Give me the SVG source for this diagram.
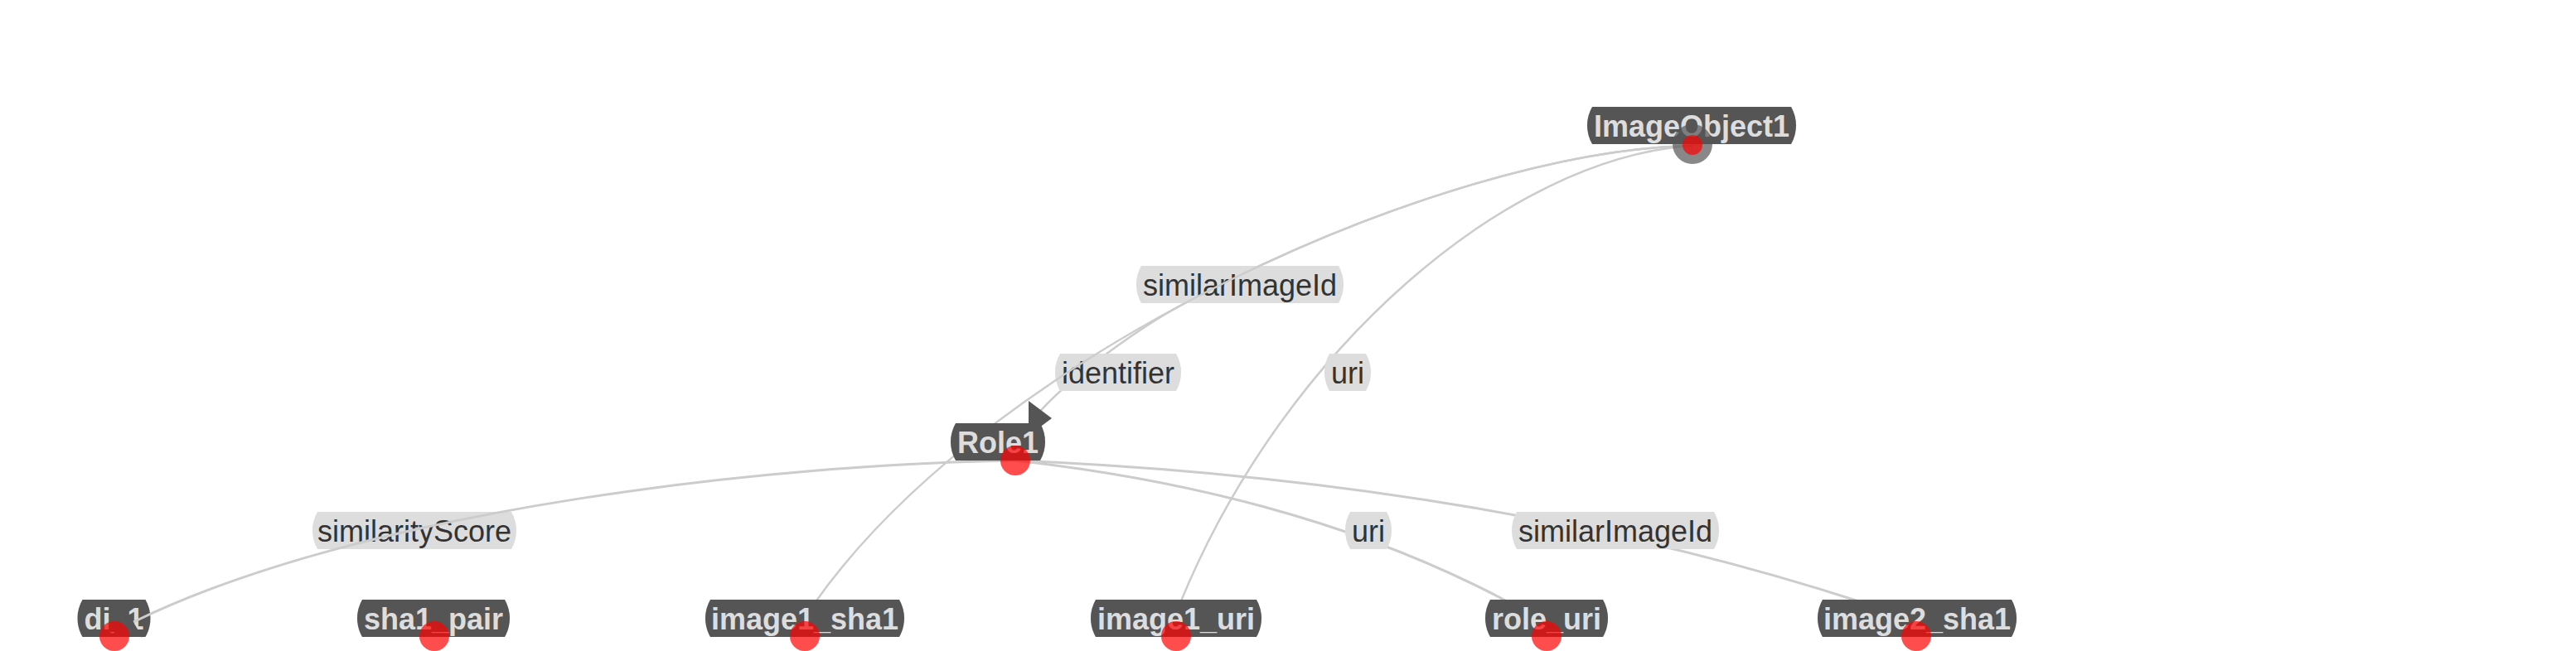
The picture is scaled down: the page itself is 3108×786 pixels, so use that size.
<svg xmlns="http://www.w3.org/2000/svg" width="3108" height="786" viewBox="0 0 3108 786">
<style>
.edge{fill:none;stroke:#ccc;stroke-width:2.5}
.edge.thick{stroke-width:3}
.node path{fill:#555}
.node text{font-family:"Liberation Sans",Arial,Helvetica,sans-serif;font-weight:bold;font-size:36px;fill:#ddd;text-anchor:middle}
.label path{fill:#ddd}
.label text{font-family:"Liberation Sans",Arial,Helvetica,sans-serif;font-size:36px;fill:#333;text-anchor:middle}
.arrow{fill:#555}
.pin{fill:#f00;fill-opacity:0.7}
.halo{fill:#555;fill-opacity:0.7}
</style>
<defs>
<path id="arrowhead" d="M0,-21 L28,0 L0,21 Z"/>
</defs>
<rect width="3108" height="786" fill="#fff"/>

<g id="node-di_1" class="node">
<path d="M99.5,724 H175.5 A45,45 0 0 1 175.5,769 H99.5 A45,45 0 0 1 99.5,724 Z"/>
<text x="137.5" y="759.5">di_1</text>
</g>

<g id="connectors">
<path id="e-uri-top" class="edge" d="M2042,176 C1820,190 1550,420 1424,728"/>
<path id="e-similarImageId-top" class="edge" d="M2042,176 C1881.4,178.2 1642.75,251.8 1424.4,368.8 C1380.4,392.5 1290,455 1252,500"/>
<path id="e-uri-bottom" class="edge thick" d="M1225,556 Q1574,595 1822,728"/>
<path id="e-similarImageId-bottom" class="edge thick" d="M1225,556 Q1795,580 2249,728"/>

<g class="label" id="lbl-similarImageId-top">
<path d="M1377,321 H1615 A45,45 0 0 1 1615,366 H1377 A45,45 0 0 1 1377,321 Z"/>
<text x="1496" y="356.5">similarImageId</text>
</g>
<g class="label" id="lbl-identifier">
<path d="M1279,427 H1419 A45,45 0 0 1 1419,472 H1279 A45,45 0 0 1 1279,427 Z"/>
<text x="1349" y="462.5">identifier</text>
</g>
<g class="label" id="lbl-uri-top">
<path d="M1604,427 H1648 A45,45 0 0 1 1648,472 H1604 A45,45 0 0 1 1604,427 Z"/>
<text x="1626" y="462.5">uri</text>
</g>
<g class="label" id="lbl-similarityScore">
<path d="M383,618 H617 A45,45 0 0 1 617,663 H383 A45,45 0 0 1 383,618 Z"/>
<text x="500" y="653.5">similarityScore</text>
</g>
<g class="label" id="lbl-uri-bottom">
<path d="M1629,618 H1673 A45,45 0 0 1 1673,663 H1629 A45,45 0 0 1 1629,618 Z"/>
<text x="1651" y="653.5">uri</text>
</g>
<g class="label" id="lbl-similarImageId-bottom">
<path d="M1830,618 H2068 A45,45 0 0 1 2068,663 H1830 A45,45 0 0 1 1830,618 Z"/>
<text x="1949" y="653.5">similarImageId</text>
</g>

<path id="e-identifier" class="edge" d="M2042,176 C1750,180 1200,420 983,728"/>
<path id="e-similarityScore" class="edge thick" d="M1225,556 C950,560 450,610 161,751"/>

<use href="#arrowhead" class="arrow" transform="translate(1241,505)"/>
<use href="#arrowhead" class="arrow" transform="translate(161,751.4) rotate(148.7)"/>
</g>

<g id="node-ImageObject1" class="node">
<path d="M1921,129 H2161 A45,45 0 0 1 2161,174 H1921 A45,45 0 0 1 1921,129 Z"/>
<text x="2041" y="164.5">ImageObject1</text>
</g>
<g id="node-Role1" class="node">
<path d="M1153,511 H1255 A45,45 0 0 1 1255,556 H1153 A45,45 0 0 1 1153,511 Z"/>
<text x="1204" y="546.5">Role1</text>
</g>
<g id="node-sha1_pair" class="node">
<path d="M437,724 H609 A45,45 0 0 1 609,769 H437 A45,45 0 0 1 437,724 Z"/>
<text x="523" y="759.5">sha1_pair</text>
</g>
<g id="node-image1_sha1" class="node">
<path d="M857,724 H1085 A45,45 0 0 1 1085,769 H857 A45,45 0 0 1 857,724 Z"/>
<text x="971" y="759.5">image1_sha1</text>
</g>
<g id="node-image1_uri" class="node">
<path d="M1322,724 H1516 A45,45 0 0 1 1516,769 H1322 A45,45 0 0 1 1322,724 Z"/>
<text x="1419" y="759.5">image1_uri</text>
</g>
<g id="node-role_uri" class="node">
<path d="M1798,724 H1934 A45,45 0 0 1 1934,769 H1798 A45,45 0 0 1 1798,724 Z"/>
<text x="1866" y="759.5">role_uri</text>
</g>
<g id="node-image2_sha1" class="node">
<path d="M2199,724 H2427 A45,45 0 0 1 2427,769 H2199 A45,45 0 0 1 2199,724 Z"/>
<text x="2313" y="759.5">image2_sha1</text>
</g>

<g id="pins">
<circle class="halo" cx="2042" cy="174" r="24"/>
<circle class="pin" cx="2042" cy="175" r="12"/>
<circle class="pin" cx="1225" cy="556" r="18"/>
<circle class="pin" cx="138" cy="768" r="18"/>
<circle class="pin" cx="524" cy="768" r="18"/>
<circle class="pin" cx="971" cy="768" r="18"/>
<circle class="pin" cx="1419" cy="768" r="18"/>
<circle class="pin" cx="1866" cy="768" r="18"/>
<circle class="pin" cx="2312" cy="768" r="18"/>
</g>
</svg>
